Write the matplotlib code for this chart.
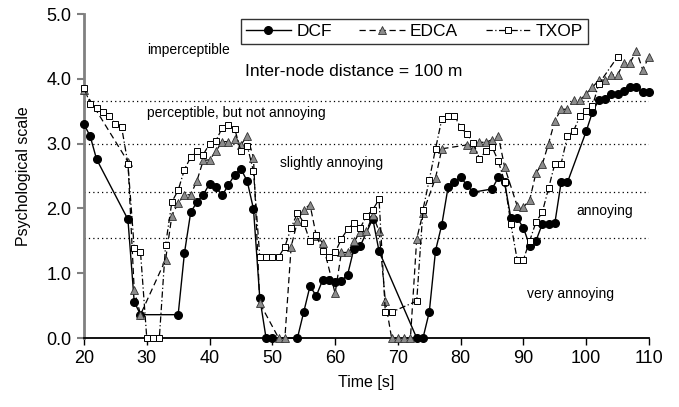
import matplotlib
matplotlib.use('Agg')
import matplotlib.pyplot as plt

plt.rcParams['font.family'] = ['Liberation Sans', 'DejaVu Sans']

# DCF (circles)
dcf_t = [20, 21, 22, 27, 28, 29, 35, 36, 37, 38, 39, 40, 41, 42, 43, 44, 45, 46, 47, 48,
         49, 50, 54, 55, 56, 57, 58, 59, 60, 61, 62, 63, 64, 66, 67, 73, 74, 75, 76, 77,
         78, 79, 80, 81, 82, 85, 86, 87, 88, 89, 90, 91, 92, 93, 94, 95, 96, 97, 100, 101,
         102, 103, 104, 105, 106, 107, 108, 109, 110]
dcf_v = [3.30, 3.11, 2.76, 1.83, 0.56, 0.36, 0.36, 1.31, 1.94, 2.10, 2.21, 2.38, 2.33, 2.20, 2.36, 2.52, 2.61, 2.42, 1.99, 0.62,
         0, 0, 0, 0.40, 0.80, 0.65, 0.89, 0.89, 0.87, 0.88, 0.98, 1.38, 1.42, 1.84, 1.34, 0, 0, 0.40, 1.35, 1.75,
         2.33, 2.41, 2.48, 2.36, 2.25, 2.30, 2.48, 2.40, 1.85, 1.85, 1.70, 1.42, 1.50, 1.76, 1.76, 1.77, 2.40, 2.40, 3.19, 3.49,
         3.67, 3.69, 3.77, 3.77, 3.81, 3.87, 3.87, 3.79, 3.79]

# EDCA (triangles)
edca_t = [20, 27, 28, 29, 33, 34, 35, 36, 37, 38, 39, 40, 41, 42, 43, 44, 45, 46, 47, 48,
          51, 52, 53, 54, 55, 56, 57, 58, 60, 61, 62, 63, 64, 65, 66, 67, 68, 69, 70, 71,
          72, 73, 74, 76, 77, 81, 82, 83, 84, 85, 86, 87, 89, 90, 91, 92, 93, 94, 95, 96,
          97, 98, 99, 100, 101, 102, 103, 104, 105, 106, 107, 108, 109, 110]
edca_v = [3.82, 2.72, 0.74, 0.36, 1.21, 1.89, 2.08, 2.21, 2.21, 2.43, 2.74, 2.75, 2.88, 3.03, 3.03, 3.07, 2.98, 3.12, 2.78, 0.54,
          0, 0, 1.41, 1.80, 1.98, 2.06, 1.58, 1.47, 0.69, 1.32, 1.32, 1.49, 1.63, 1.65, 1.90, 1.65, 0.57, 0, 0, 0,
          0, 1.53, 1.93, 2.47, 2.92, 2.98, 2.91, 3.02, 3.02, 3.06, 3.12, 2.64, 2.04, 2.02, 2.13, 2.55, 2.68, 3.00, 3.35, 3.53,
          3.53, 3.67, 3.67, 3.77, 3.87, 3.98, 3.98, 4.06, 4.06, 4.25, 4.25, 4.43, 4.14, 4.34]

# TXOP (squares)
txop_t = [20, 21, 22, 23, 24, 25, 26, 27, 28, 29, 30, 31, 32, 33, 34, 35, 36, 37, 38, 39,
          40, 41, 42, 43, 44, 45, 46, 47, 48, 49, 50, 51, 52, 53, 54, 55, 56, 57, 58, 59,
          60, 61, 62, 63, 64, 65, 66, 67, 68, 69, 73, 74, 75, 76, 77, 78, 79, 80, 81, 82,
          83, 84, 85, 86, 87, 88, 89, 90, 91, 92, 93, 94, 95, 96, 97, 98, 99, 100, 101, 102, 105]
txop_v = [3.86, 3.61, 3.55, 3.49, 3.43, 3.31, 3.25, 2.69, 1.39, 1.33, 0, 0, 0, 1.44, 2.10, 2.28, 2.60, 2.79, 2.89, 2.83,
          3.00, 3.04, 3.24, 3.28, 3.23, 2.88, 2.97, 2.57, 1.25, 1.25, 1.25, 1.25, 1.41, 1.70, 1.93, 1.78, 1.49, 1.59, 1.34, 1.25,
          1.32, 1.53, 1.68, 1.77, 1.70, 1.88, 1.98, 2.14, 0.40, 0.40, 0.57, 1.98, 2.44, 2.92, 3.38, 3.43, 3.43, 3.25, 3.15, 3.01,
          2.77, 2.88, 2.95, 2.73, 2.41, 1.76, 1.21, 1.21, 1.50, 1.79, 1.94, 2.31, 2.69, 2.69, 3.11, 3.20, 3.42, 3.51, 3.58, 3.92, 4.34]

# quality boundaries and labels
bounds = [3.65, 3.0, 2.25, 1.54]
zone_labels = ['imperceptible', 'perceptible, but not annoying', 'slightly annoying', 'annoying', 'very annoying']
zone_pos = [(30.1, 4.45), (30.1, 3.48), (51.2, 2.70), (98.4, 1.96), (90.6, 0.68)]

fig = plt.figure(figsize=(6.79, 4.07), dpi=100)
ax = fig.add_axes([0.1237, 0.1695, 0.8321, 0.7961])

for b in bounds:
    ax.axhline(b, color='black', linestyle=(0, (1, 2.5)), linewidth=0.9, zorder=1)

ax.plot(dcf_t, dcf_v, '-', color='black', linewidth=1.0, marker='o', markersize=5.5,
        markerfacecolor='black', markeredgecolor='black', label='DCF', clip_on=False, zorder=3)
ax.plot(edca_t, edca_v, color='black', linestyle=(0, (5, 3)), linewidth=0.9, marker='^', markersize=6,
        markerfacecolor='#8c8c8c', markeredgecolor='#333333', markeredgewidth=0.6, label='EDCA', clip_on=False, zorder=4)
ax.plot(txop_t, txop_v, color='black', linestyle=(0, (5, 2, 1, 2)), linewidth=0.9, marker='s', markersize=4,
        markerfacecolor='white', markeredgecolor='black', markeredgewidth=0.7, label='TXOP', clip_on=False, zorder=5)

for lbl, (x, y) in zip(zone_labels, zone_pos):
    ax.text(x, y, lbl, fontsize=10, ha='left', va='center')

ax.text(45.6, 4.11, 'Inter-node distance = 100 m', fontsize=12.5, ha='left', va='center')

ax.set_xlim(20, 110)
ax.set_ylim(0, 5)
ax.set_xticks(range(20, 111, 10))
ax.set_yticks([0, 1, 2, 3, 4, 5])
ax.set_yticklabels(['%.1f' % v for v in [0, 1, 2, 3, 4, 5]])
ax.tick_params(axis='both', labelsize=13, direction='out', length=5)
ax.tick_params(axis='y', color='#808080', width=1.5, pad=4)
ax.tick_params(axis='x', color='black', width=1.0)

ax.spines['top'].set_visible(False)
ax.spines['right'].set_visible(False)
ax.spines['left'].set_color('#808080')
ax.spines['left'].set_linewidth(2.0)
ax.spines['bottom'].set_linewidth(1.3)

ax.set_xlabel('Time [s]', fontsize=11.5, labelpad=6)
ax.set_ylabel('Psychological scale', fontsize=11.5, labelpad=11)

leg = ax.legend(loc='upper center', bbox_to_anchor=(0.585, 0.985), ncol=3, frameon=True,
                fancybox=False, fontsize=12.5, handlelength=2.6, columnspacing=1.6,
                handletextpad=0.3, borderpad=0.3, borderaxespad=0)
leg.get_frame().set_edgecolor('black')
leg.get_frame().set_linewidth(1.0)

fig.savefig('out.png', dpi=100)
